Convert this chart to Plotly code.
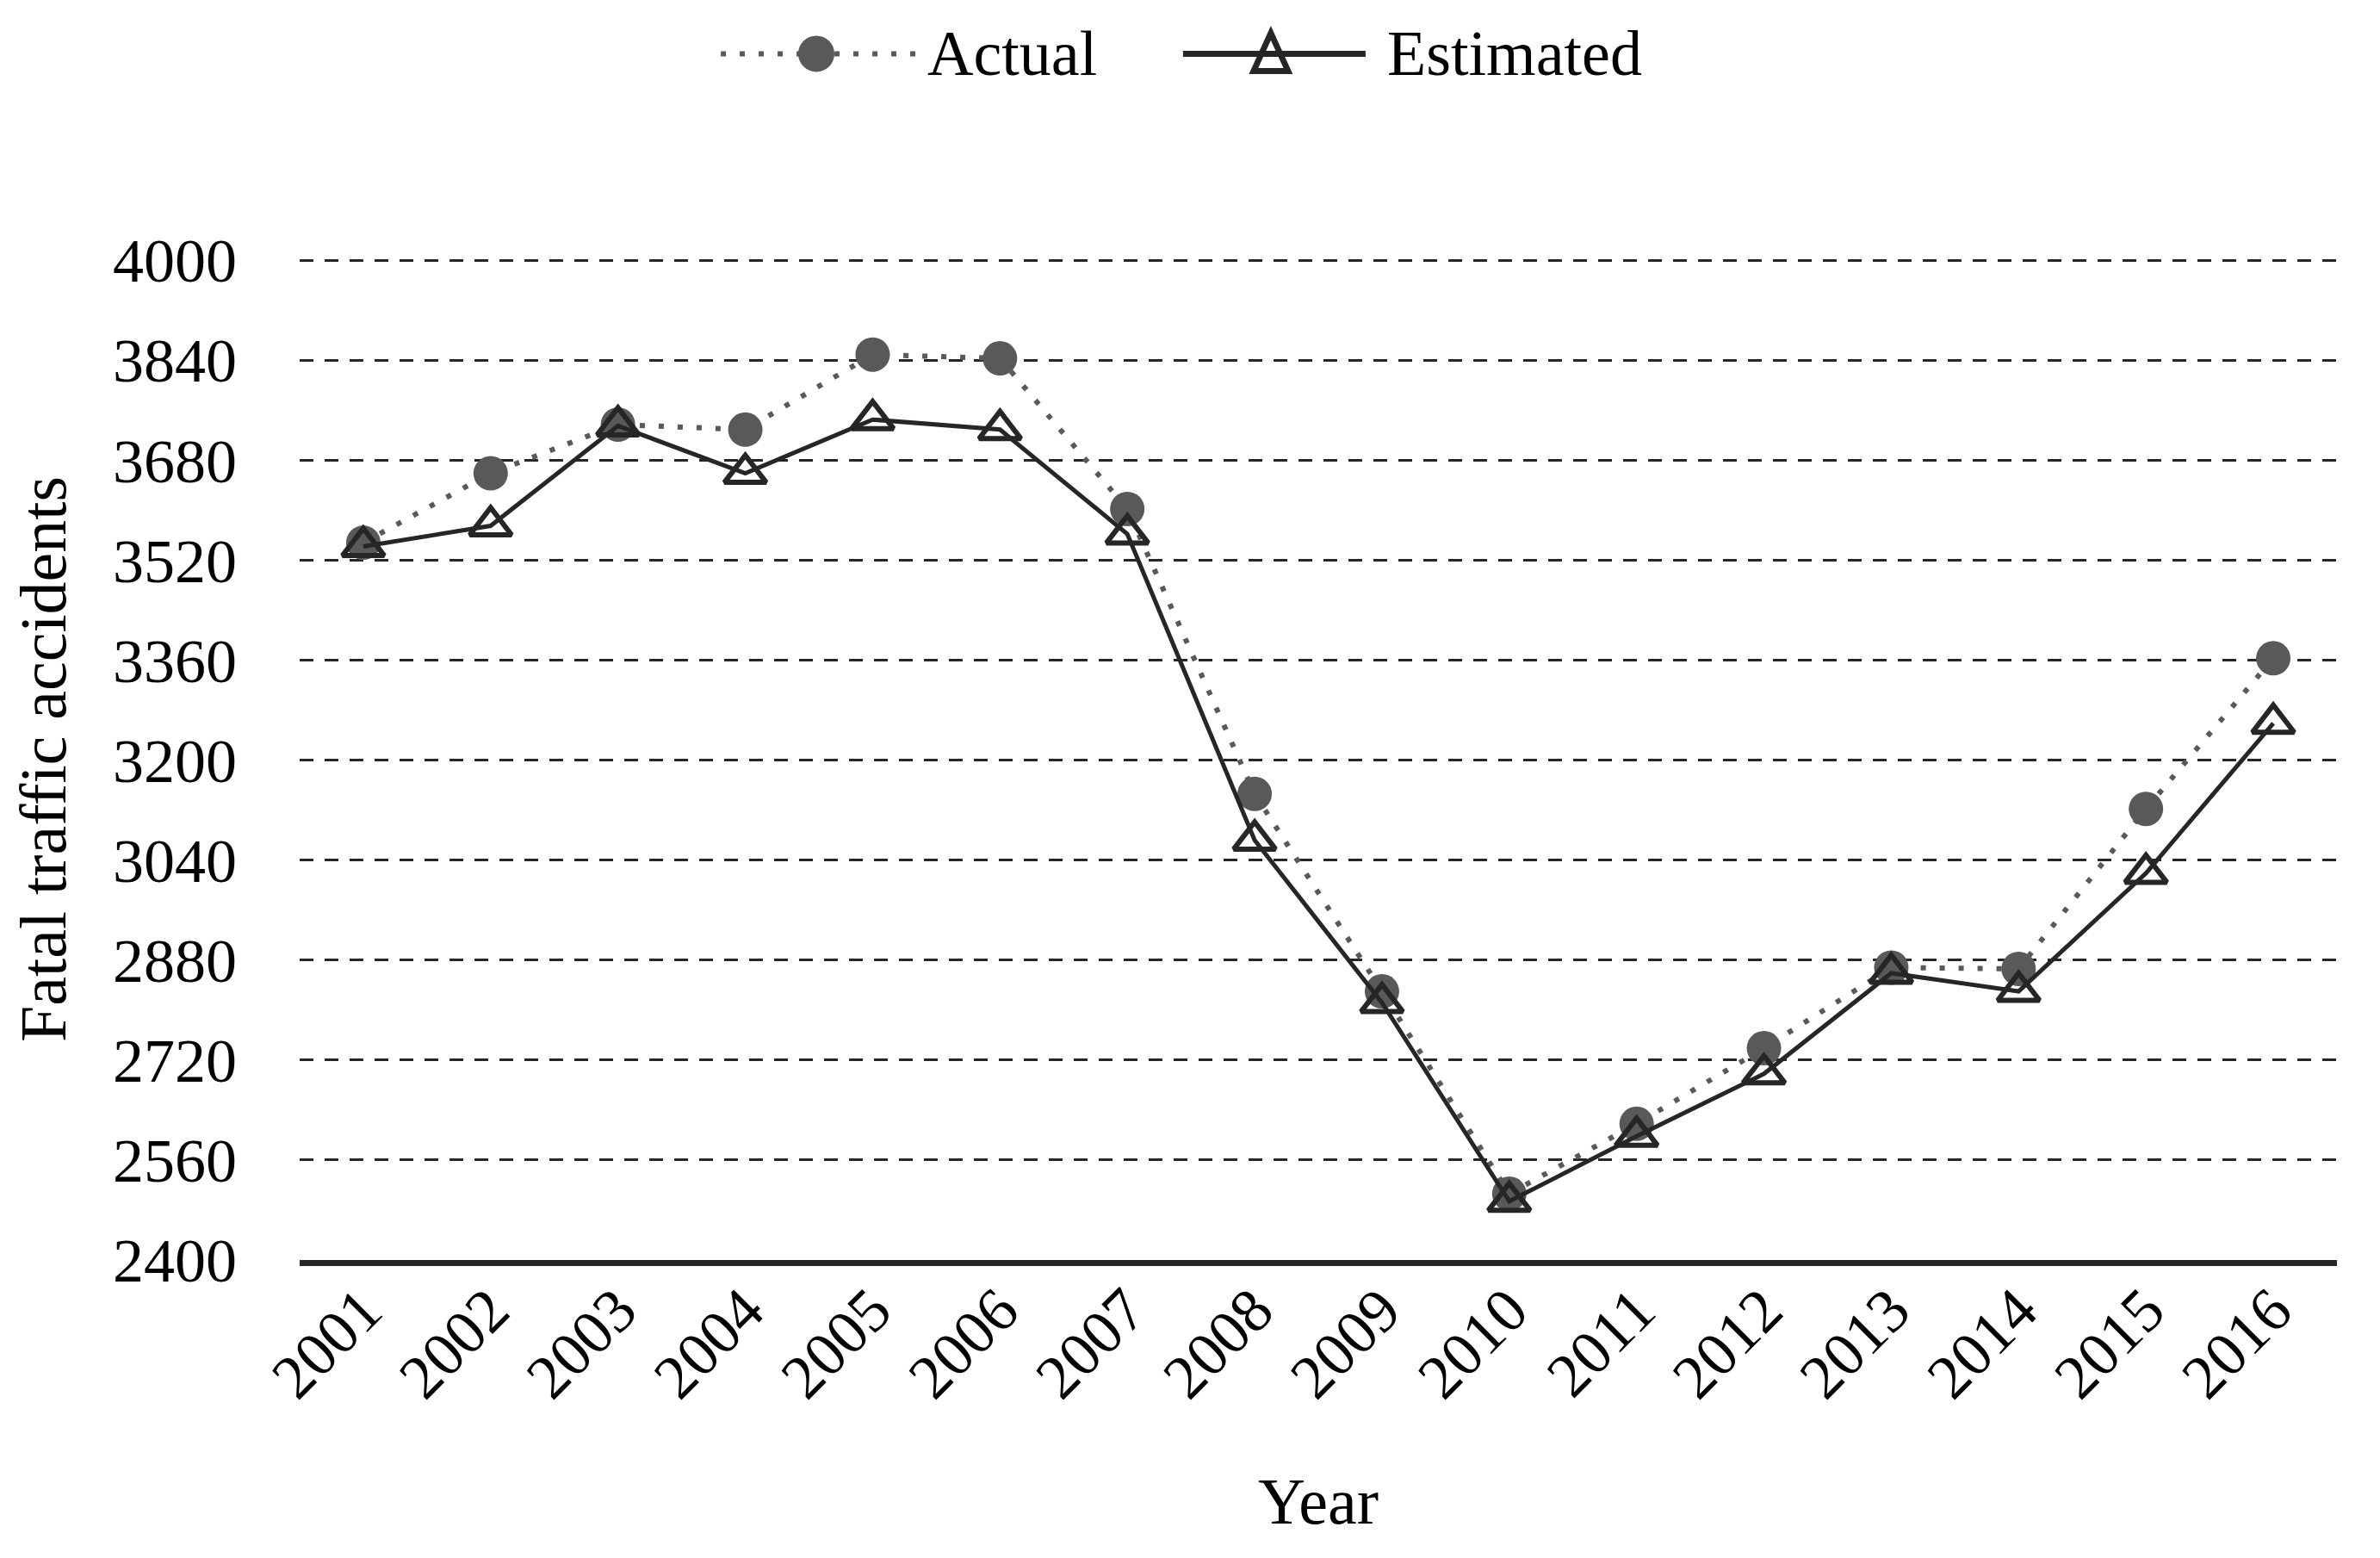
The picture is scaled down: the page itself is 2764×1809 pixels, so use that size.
import plotly.graph_objects as go

years = ["2001", "2002", "2003", "2004", "2005", "2006", "2007", "2008",
         "2009", "2010", "2011", "2012", "2013", "2014", "2015", "2016"]
actual = [3548, 3659, 3737, 3729, 3849, 3843, 3602, 3146,
          2830, 2506, 2618, 2739, 2868, 2866, 3122, 3363]
estimated = [3542, 3575, 3735, 3659, 3745, 3729, 3562, 3072,
             2812, 2494, 2598, 2698, 2859, 2830, 3019, 3259]
y_ticks = [2400, 2560, 2720, 2880, 3040, 3200, 3360, 3520, 3680, 3840, 4000]

FONT = "Liberation Serif, Times New Roman, serif"
GRAY = "#595959"
DARK = "#262626"

fig = go.Figure()
fig.add_trace(go.Scatter(
    x=years, y=actual, name="Actual", mode="lines+markers",
    line=dict(color=GRAY, width=6, dash="6px,16px"),
    marker=dict(symbol="circle", size=40, color=GRAY),
    showlegend=False,
))
fig.add_trace(go.Scatter(
    x=years, y=estimated, name="Estimated", mode="lines+markers",
    line=dict(color=DARK, width=5),
    marker=dict(symbol="triangle-up-open", size=42, color=DARK,
                line=dict(width=6, color=DARK)),
    showlegend=False,
))

# custom legend (paper coordinates relative to the plot area)
LY = 1.2043
shapes = [
    dict(type="line", xref="paper", yref="paper", x0=0.2067, x1=0.3034, y0=LY, y1=LY,
         line=dict(color=GRAY, width=6, dash="6px,16px")),
    dict(type="circle", xref="paper", yref="paper", xsizemode="pixel", ysizemode="pixel",
         xanchor=0.2536, yanchor=LY, x0=-21, x1=21, y0=-21, y1=21,
         fillcolor=GRAY, line=dict(width=0)),
    dict(type="line", xref="paper", yref="paper", x0=0.4336, x1=0.5232, y0=LY, y1=LY,
         line=dict(color=DARK, width=7)),
    dict(type="path", xref="paper", yref="paper", xsizemode="pixel", ysizemode="pixel",
         xanchor=0.4767, yanchor=LY, path="M-20,-20 L20,-20 L0,24 Z",
         line=dict(color=DARK, width=7)),
]
annotations = [
    dict(text="Actual", xref="paper", yref="paper", x=0.3072, y=LY, xanchor="left",
         yanchor="middle", showarrow=False, font=dict(size=74, family=FONT, color="black")),
    dict(text="Estimated", xref="paper", yref="paper", x=0.5330, y=LY, xanchor="left",
         yanchor="middle", showarrow=False, font=dict(size=74, family=FONT, color="black")),
]

fig.update_layout(
    width=2764, height=1809,
    margin=dict(l=340, r=58, t=292, b=354),
    paper_bgcolor="white", plot_bgcolor="white",
    font=dict(family=FONT, size=72, color="black"),
    showlegend=False,
    shapes=shapes, annotations=annotations,
)
fig.update_xaxes(
    type="category", range=[-0.5, 15.5],
    showgrid=False, showline=True, linecolor=DARK, linewidth=7,
    ticks="", tickangle=-45, tickfont=dict(size=72),
    ticklabelstandoff=-20,
    title=dict(text="Year", font=dict(size=76), standoff=80),
)
fig.update_yaxes(
    range=[2400, 4003], tickvals=y_ticks,
    showgrid=True, gridcolor=DARK, gridwidth=3, griddash="16px,13px",
    zeroline=False, showline=False, ticks="",
    tickfont=dict(size=72), ticklabelstandoff=72,
    title=dict(text="Fatal traffic accidents", font=dict(size=76), standoff=40),
)

fig.write_html("out.html")
